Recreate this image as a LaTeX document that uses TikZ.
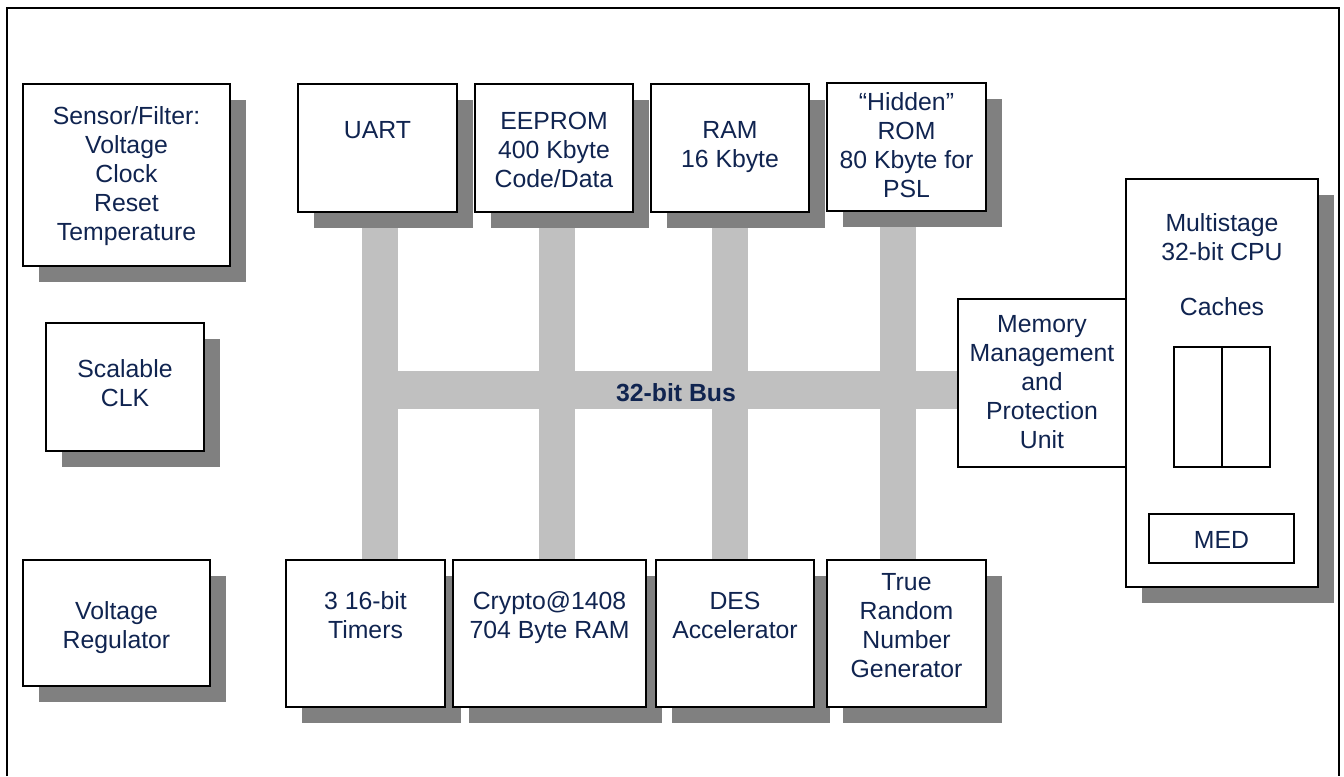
\documentclass[tikz,border=0pt]{standalone}
\usepackage{fontspec}
\setmainfont{Liberation Sans}
\usetikzlibrary{shadows}
\definecolor{txtc}{RGB}{16,36,80}
\definecolor{shd}{RGB}{128,128,128}
\definecolor{busc}{RGB}{192,192,192}
\pgfdeclarelayer{bg}
\pgfsetlayers{bg,main}
% \blk[style]{name}{x1}{y1}{x2}{y2}  (pixel coordinates, y downwards)
\newcommand{\blk}[6][blkbox]{\node[#1, minimum width={(#5-#3)*0.75pt}, minimum height={(#6-#4)*0.75pt}] (#2) at ({(#3+#5)/2},{(#4+#6)/2}) {};}
\tikzset{
  blkbox/.style={rectangle, draw=black, line width=1.2pt, fill=white, inner sep=0pt, outer sep=0pt},
  shbox/.style={blkbox, drop shadow={shadow xshift=12pt, shadow yshift=-12pt, fill=shd, draw=none, opacity=1}},
  lbl/.style={text=txtc, align=center, inner sep=0pt, font=\fontsize{18.6}{21.75}\selectfont},
  vbus/.style={draw=busc, line width=27pt, line cap=butt},
  hbus/.style={draw=busc, line width=28.5pt, line cap=butt},
  frame/.style={draw=black, line width=1.5pt}
}
\begin{document}
\begin{tikzpicture}[x=0.75pt, y=-0.75pt]
\useasboundingbox (0,0) rectangle (1344,776);
\draw[frame] (6.5,776) -- (6.5,7.5) -- (1339,7.5) -- (1339,776);

% left column
\blk[shbox]{sensor}{23}{84}{230}{266}
\blk[shbox]{clk}{46}{323}{204}{451}
\blk[shbox]{vreg}{23}{560}{210}{686}
% top row
\blk[shbox]{uart}{298}{84}{457}{212}
\blk[shbox]{eeprom}{475}{84}{633}{212}
\blk[shbox]{ram}{651}{84}{809}{212}
\blk[shbox]{rom}{827}{83}{986}{211}
% bottom row
\blk[shbox]{timers}{286}{560}{445}{707}
\blk[shbox]{crypto}{453}{560}{646}{707}
\blk[shbox]{des}{656}{560}{814}{707}
\blk[shbox]{trng}{827}{560}{986}{707}
% CPU side
\blk[shbox]{cpu}{1126}{179}{1318}{587}
\blk{mmu}{958}{299}{1126}{467}
\blk{cacheA}{1174}{347}{1222}{467}
\blk{cacheB}{1222}{347}{1270}{467}
\blk{med}{1149}{514}{1294}{563}

% labels
\node[lbl] (t-sensor) at (126.5,176) {Sensor/Filter:\\Voltage\\Clock\\Reset\\Temperature};
\node[lbl] (t-clk) at (125,383.5) {Scalable\\CLK};
\node[lbl] (t-vreg) at (116.5,627.5) {Voltage\\Regulator};
\node[lbl] (t-uart) at (377.5,130) {UART};
\node[lbl] (t-eeprom) at (554,150) {EEPROM\\400 Kbyte\\Code/Data};
\node[lbl] (t-ram) at (730,147) {RAM\\16 Kbyte};
\node[lbl] (t-rom) at (906.5,145.5) {“Hidden”\\ROM\\80 Kbyte for\\PSL};
\node[lbl] (t-timers) at (365.5,615.5) {3 16-bit\\Timers};
\node[lbl] (t-crypto) at (549.5,617.5) {Crypto@1408\\704 Byte RAM};
\node[lbl] (t-des) at (735,615) {DES\\Accelerator};
\node[lbl] (t-trng) at (906.5,625.5) {True\\Random\\Number\\Generator};
\node[lbl] (t-mmu) at (1042,382.5) {Memory\\Management\\and\\Protection\\Unit};
\node[lbl] (t-cpu) at (1222,237.5) {Multistage\\32-bit CPU};
\node[lbl] (t-caches) at (1222,306.5) {Caches};
\node[lbl] (t-med) at (1221.5,540) {MED};

% bus
\coordinate (b1) at (380,390);
\coordinate (b2) at (557,390);
\coordinate (b3) at (730,390);
\coordinate (b4) at (898,390);
\coordinate (bl) at (362,390);
\begin{pgfonlayer}{bg}
\draw[vbus] (b1 |- uart.south) -- (b1 |- timers.north);
\draw[vbus] (b2 |- eeprom.south) -- (b2 |- crypto.north);
\draw[vbus] (b3 |- ram.south) -- (b3 |- des.north);
\draw[vbus] (b4 |- rom.south) -- (b4 |- trng.north);
\draw[hbus] (bl) -- (bl -| mmu.west);
\end{pgfonlayer}
\node[lbl, font=\fontsize{18.6}{21.75}\selectfont\bfseries] (t-bus) at (676,392.5) {32-bit Bus};
\end{tikzpicture}
\end{document}
